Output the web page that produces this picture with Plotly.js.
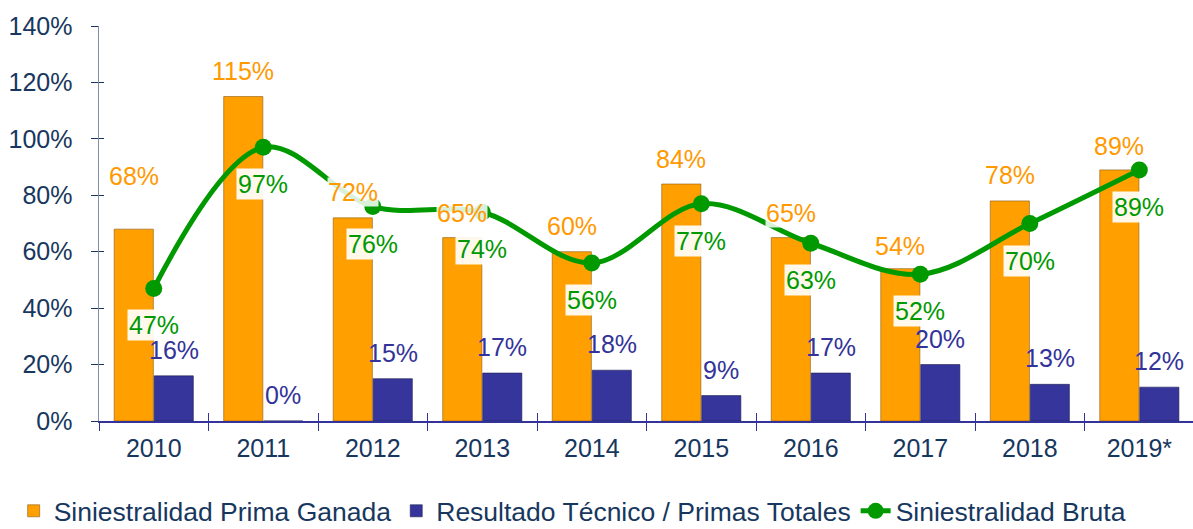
<!DOCTYPE html>
<html>
<head>
<meta charset="utf-8">
<script src="https://cdn.plot.ly/plotly-3.0.1.min.js"></script>
<style>html,body{margin:0;padding:0;background:#fff;}#chart{width:1193px;height:529px;}</style>
</head>
<body>
<div id="chart"></div>
<script>
var years = ['2010','2011','2012','2013','2014','2015','2016','2017','2018','2019*'];
var primaGanada = [68, 115, 72, 65, 60, 84, 65, 54, 78, 89];
var resultadoTecnico = [16, 0, 15, 17, 18, 9, 17, 20, 13, 12];
var siniestralidadBruta = [47, 97, 76, 74, 56, 77, 63, 52, 70, 89];
var yTickVals = [0, 20, 40, 60, 80, 100, 120, 140];
var yTickText = ['0%', '20%', '40%', '60%', '80%', '100%', '120%', '140%'];
var names = ['Siniestralidad Prima Ganada', 'Resultado Técnico / Primas Totales', 'Siniestralidad Bruta'];

var FONT = 'Arial, "Liberation Sans", sans-serif';
var NAVY = '#17375E';
var ORANGE = '#FF9900';
var BLUE = '#333399';
var GREEN = '#009900';

var traces = [
  {
    type: 'bar', x: years, y: primaGanada, name: names[0],
    marker: {color: '#FFA000', line: {color: 'rgba(140,90,20,0.6)', width: 1}},
    hoverinfo: 'skip'
  },
  {
    type: 'bar', x: years, y: resultadoTecnico, name: names[1],
    marker: {color: '#35359C', line: {color: 'rgba(30,30,80,0.6)', width: 1}},
    hoverinfo: 'skip'
  },
  {
    type: 'scatter', mode: 'lines+markers', x: years, y: siniestralidadBruta, name: names[2],
    line: {color: GREEN, width: 5, shape: 'spline', smoothing: 1},
    marker: {color: GREEN, size: 17},
    hoverinfo: 'skip'
  },
  {
    type: 'scatter', x: years, y: siniestralidadBruta, xaxis: 'x2', yaxis: 'y2',
    mode: 'none', showlegend: false, hoverinfo: 'skip'
  }
];

var annotations = [];
var orangeShift = [53, 26, 26, 25, 26, 25, 25, 23, 26, 24];
years.forEach(function (yr, i) {
  annotations.push({
    x: i, y: primaGanada[i], xref: 'x', yref: 'y', text: primaGanada[i] + '%',
    showarrow: false, xshift: -20, yshift: orangeShift[i],
    font: {family: FONT, size: 25, color: ORANGE},
    bgcolor: 'rgba(255,255,255,0.85)', borderpad: 0
  });
  annotations.push({
    x: i, y: resultadoTecnico[i], xref: 'x', yref: 'y', text: resultadoTecnico[i] + '%',
    showarrow: false, xshift: 20, yshift: 26,
    font: {family: FONT, size: 25, color: BLUE}
  });
  annotations.push({
    x: i, y: siniestralidadBruta[i], xref: 'x', yref: 'y', text: siniestralidadBruta[i] + '%',
    showarrow: false, yshift: -37,
    font: {family: FONT, size: 25, color: GREEN},
    bgcolor: 'rgba(255,255,255,0.92)', borderpad: 1
  });
});

var layout = {
  width: 1193, height: 529,
  margin: {l: 99, r: 0, t: 26, b: 108, autoexpand: false},
  paper_bgcolor: '#ffffff', plot_bgcolor: '#ffffff',
  barmode: 'group', bargap: 0.27, bargroupgap: 0.02,
  showlegend: true,
  font: {family: FONT, color: NAVY},
  xaxis: {
    type: 'category', range: [-0.5, 9.49], fixedrange: true,
    showline: true, linecolor: '#333399', linewidth: 1.5,
    ticks: 'outside', ticklen: 8, tickcolor: '#333399', tickwidth: 1,
    tickson: 'boundaries', ticklabelstandoff: 4,
    tickfont: {family: FONT, size: 25, color: NAVY},
    showgrid: false, zeroline: false
  },
  xaxis2: {
    type: 'category', overlaying: 'x', matches: 'x', range: [-0.5, 9.49],
    ticks: 'inside', ticklen: 8, tickcolor: '#333399', tickwidth: 1,
    tickson: 'boundaries', showticklabels: false, showline: false, showgrid: false, zeroline: false
  },
  yaxis: {
    range: [0, 140], fixedrange: true,
    tickvals: yTickVals, ticktext: yTickText,
    showline: true, linecolor: '#7F8FA9', linewidth: 1.5,
    ticks: 'outside', ticklen: 7, tickcolor: NAVY, tickwidth: 1,
    ticklabelstandoff: 13,
    tickfont: {family: FONT, size: 25, color: NAVY},
    showgrid: false, zeroline: false
  },
  yaxis2: {
    overlaying: 'y', matches: 'y', range: [0, 140], tickvals: yTickVals,
    ticks: 'inside', ticklen: 5, tickcolor: NAVY, tickwidth: 1,
    showticklabels: false, showline: false, showgrid: false, zeroline: false
  },
  legend: {
    orientation: 'h', x: -0.078, xanchor: 'left', y: -0.228, yanchor: 'middle',
    font: {family: FONT, size: 26.5, color: NAVY},
    bgcolor: 'rgba(0,0,0,0)', itemwidth: 30, tracegroupgap: 0
  },
  annotations: annotations
};

Plotly.newPlot('chart', traces, layout, {displayModeBar: false, staticPlot: true});
</script>
</body>
</html>
